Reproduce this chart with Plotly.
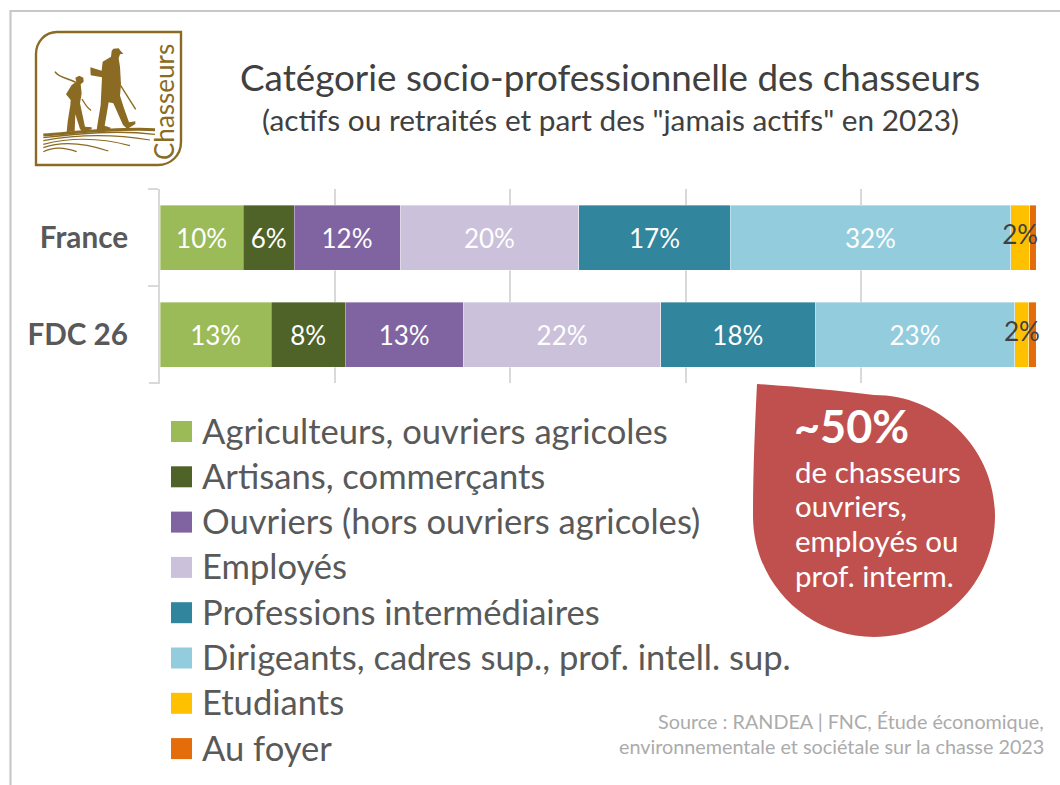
import plotly.graph_objects as go

W, H = 1060, 785
FONT = "Lato"

categories = ["France", "FDC 26"]
series_names = ["Agriculteurs, ouvriers agricoles", "Artisans, commerçants",
                "Ouvriers (hors ouvriers agricoles)", "Employés",
                "Professions intermédiaires",
                "Dirigeants, cadres sup., prof. intell. sup.",
                "Etudiants", "Au foyer"]
series_colors = ["#9BBB59", "#4F6228", "#8064A2", "#CCC1DA",
                 "#31859C", "#93CDDD", "#FFC000", "#E46C0A"]
agri = [9.5, 12.7]
artisans = [5.8, 8.4]
ouvriers = [12.1, 13.5]
employes = [20.4, 22.5]
intermed = [17.3, 17.6]
dirigeants = [32.0, 22.8]
etudiants = [2.2, 1.6]
foyer = [0.7, 0.8]
series_values = [agri, artisans, ouvriers, employes, intermed, dirigeants, etudiants, foyer]
labels_france = ["10%", "6%", "12%", "20%", "17%", "32%", "2%", ""]
labels_fdc = ["13%", "8%", "13%", "22%", "18%", "23%", "2%", ""]
title_text = "Catégorie socio-professionnelle des chasseurs"
subtitle_text = '(actifs ou retraités et part des "jamais actifs" en 2023)'
callout_big = "~50%"
callout_lines = ["de chasseurs", "ouvriers,", "employés ou", "prof. interm."]
source_lines = ["Source : RANDEA | FNC, Étude économique,",
                "environnementale et sociétale sur la chasse 2023"]


def X(p):
    return p / W


def Y(p):
    return 1 - p / H


def path(pts, close=True):
    """Pixel points (from top-left) -> SVG path in paper fractions. Tuples with 6 numbers are cubic segments."""
    out = []
    for i, p in enumerate(pts):
        if len(p) == 2:
            out.append(("M" if i == 0 else "L") + f"{X(p[0]):.5f},{Y(p[1]):.5f}")
        else:
            out.append("C" + " ".join(f"{X(p[j]):.5f},{Y(p[j+1]):.5f}" for j in (0, 2, 4)))
    return " ".join(out) + (" Z" if close else "")


def zl(x, y):
    """Logo drawing coordinates -> pixels."""
    return (30 + x / 3, 25 + y / 3)


def zpath(pts, close=True):
    conv = []
    for p in pts:
        if len(p) == 2:
            conv.append(zl(*p))
        else:
            conv.append(zl(p[0], p[1]) + zl(p[2], p[3]) + zl(p[4], p[5]))
    return path(conv, close)


fig = go.Figure()
for i, (name, vals, col) in enumerate(zip(series_names, series_values, series_colors)):
    txt = [labels_france[i], labels_fdc[i]]
    if name == "Etudiants" or name == "Au foyer":
        txt = None
    fig.add_bar(y=categories, x=vals, orientation="h", name=name,
                marker=dict(color=col, line=dict(color="rgba(255,255,255,0.45)", width=0.8)),
                text=txt, textposition="inside" if txt else "none",
                insidetextanchor="middle", textangle=0, constraintext="none",
                insidetextfont=dict(family=FONT, size=26, color="#FFFFFF"),
                showlegend=False, hoverinfo="skip", cliponaxis=False)

# Labels of the thin "Etudiants" segment, above the last segment
cum = [sum(s[k] for s in series_values[:6]) for k in range(2)]
tot = [sum(s[k] for s in series_values) for k in range(2)]
mid = [100 * (cum[k] + etudiants[k] / 2) / tot[k] for k in range(2)]
fig.add_scatter(x=mid, y=categories, mode="text", text=[labels_france[6], labels_fdc[6]],
                textposition="middle center", textfont=dict(family=FONT, size=26, color="#404040"),
                showlegend=False, hoverinfo="skip", cliponaxis=False)

shapes = []
ann = []


def text(x, y, s, size, color, anchor="left", bold=False, angle=0, vanchor="middle"):
    ann.append(dict(x=X(x), y=Y(y), xref="paper", yref="paper", text=f"<b>{s}</b>" if bold else s,
                    showarrow=False, xanchor=anchor, yanchor=vanchor, textangle=angle,
                    font=dict(family=FONT, size=size, color=color), align=anchor, borderpad=0, borderwidth=0))


GRID = "#D9D9D9"

# outer frame
shapes.append(dict(type="path", xref="paper", yref="paper",
                   path=path([(10.5, H + 5), (10.5, 11), (W + 5, 11)], close=False),
                   line=dict(color="#C8C8C8", width=2.2)))

# closing tick of the category axis
shapes.append(dict(type="line", xref="paper", yref="paper", x0=X(149), x1=X(160),
                   y0=Y(383), y1=Y(383), line=dict(color=GRID, width=2)))

# legend
legend_top, legend_step, sw = 431.5, 45.3, 21
for i, (name, col) in enumerate(zip(series_names, series_colors)):
    yc = legend_top + i * legend_step
    shapes.append(dict(type="rect", xref="paper", yref="paper", x0=X(171), x1=X(171 + sw),
                       y0=Y(yc - sw / 2), y1=Y(yc + sw / 2), fillcolor=col, line=dict(width=0)))
    text(202, yc - 1.5, name, 34.6, "#595959")

# callout drop
k = 121 * 0.5523
cx, cy, r = 874, 516, 121
drop = [(757, 384),
        (800, 387, 840, 391, cx, cy - r),
        (cx + k, cy - r, cx + r, cy - k, cx + r, cy),
        (cx + r, cy + k, cx + k, cy + r, cx, cy + r),
        (cx - k, cy + r, cx - r, cy + k, cx - r, cy),
        (cx - r, 470, 755, 425, 757, 384)]
shapes.append(dict(type="path", xref="paper", yref="paper", path=path(drop),
                   fillcolor="#C0504D", line=dict(width=0)))
text(794, 426, callout_big, 45, "#FFFFFF", bold=True)
for i, line in enumerate(callout_lines):
    text(795, 471 + i * 34.7, line, 29.5, "#FFFFFF")

# title and source
text(610, 77, title_text, 36.8, "#404040", anchor="center")
text(610, 120, subtitle_text, 29.8, "#404040", anchor="center")
for i, line in enumerate(source_lines):
    text(1044, 721 + i * 25, line, 19.8, "#ABABAB", anchor="right")

# logo
GOLD = "#8B6B23"
logo_box = [(57, 32), (181, 32), (181, 142),
            (181, 156, 170, 165, 158, 165), (36, 165), (36, 54),
            (36, 42, 45, 32, 57, 32)]
shapes.append(dict(type="path", xref="paper", yref="paper", path=path(logo_box),
                   fillcolor="#FFFFFF", line=dict(color=GOLD, width=2.4)))
man = [(245, 78), (250, 71), (266, 70), (272, 78), (280, 86), (270, 88), (266, 100),
       (270, 125), (273, 178), (270, 212), (282, 250), (297, 292), (316, 289), (316, 297),
       (292, 312), (279, 300), (250, 235), (236, 232), (224, 302), (242, 308), (240, 314),
       (200, 315), (203, 295), (212, 240), (216, 157), (182, 151), (181, 127), (215, 137),
       (218, 110), (243, 95)]
boy = [(136, 158), (148, 152), (160, 158), (161, 170), (152, 178), (155, 205), (150, 235),
       (165, 305), (185, 307), (185, 313), (158, 320), (150, 312), (136, 268), (134, 318),
       (110, 322), (113, 290), (121, 240), (122, 225), (108, 208), (125, 180), (139, 170)]
for shp in (man, boy):
    shapes.append(dict(type="path", xref="paper", yref="paper", path=zpath(shp),
                       fillcolor=GOLD, line=dict(width=0)))
strokes = [
    ([(272, 182), (317, 253)], 1.4),
    ([(75, 140), (85, 158, 110, 158, 137, 172)], 1.6),
    ([(156, 222), (165, 238, 172, 250, 183, 256)], 1.3),
    ([(40, 330), (150, 322, 260, 308, 375, 314)], 3.0),
    ([(40, 338), (150, 325, 260, 315, 375, 328)], 1.4),
    ([(40, 347), (130, 330, 240, 325, 360, 345)], 1.2),
    ([(40, 358), (110, 340, 200, 335, 300, 362)], 1.2),
    ([(40, 368), (90, 350, 150, 350, 235, 378)], 1.2),
    ([(40, 380), (70, 365, 100, 365, 140, 380)], 1.2),
]
for pts, w in strokes:
    shapes.append(dict(type="path", xref="paper", yref="paper", path=zpath(pts, close=False),
                       line=dict(color=GOLD, width=w)))
text(164, 102, "Chasseurs", 26, GOLD, anchor="center", angle=-90)

fig.update_layout(
    width=W, height=H, autosize=False,
    margin=dict(l=0, r=0, t=0, b=0, pad=0),
    paper_bgcolor="#FFFFFF", plot_bgcolor="#FFFFFF",
    barmode="stack", barnorm="percent", bargap=0.33,
    showlegend=False, shapes=shapes, annotations=ann,
    font=dict(family=FONT),
    xaxis=dict(domain=[X(160), X(1036)], range=[0, 100], dtick=20, showgrid=True,
               gridcolor=GRID, gridwidth=2, zeroline=False, showticklabels=False,
               showline=False, ticks="", fixedrange=True),
    yaxis=dict(domain=[Y(383), Y(189)], type="category", categoryorder="array",
               categoryarray=categories, autorange="reversed", showline=True,
               linecolor=GRID, linewidth=2, ticks="outside", tickson="boundaries",
               ticklen=10, tickwidth=2, tickcolor=GRID, showgrid=False, zeroline=False,
               ticklabelstandoff=24, fixedrange=True,
               tickfont=dict(family=FONT, size=29.7, color="#595959", weight=700)),
)

fig.write_html("out.html", config={"displayModeBar": False},
               post_script="document.body.style.margin='0';document.body.style.overflow='hidden';")
